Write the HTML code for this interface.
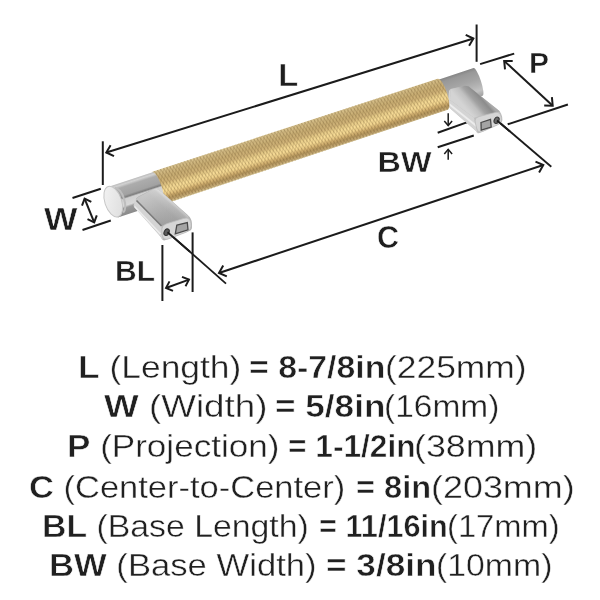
<!DOCTYPE html>
<html><head><meta charset="utf-8">
<style>
html,body{margin:0;padding:0;background:#fff;}
body{width:600px;height:600px;overflow:hidden;position:relative;font-family:"Liberation Sans",sans-serif;color:#202020;}
.t{position:absolute;font-size:31.5px;line-height:34px;white-space:nowrap;transform-origin:0 0;filter:grayscale(1);}
svg{position:absolute;left:0;top:0;}
.t{-webkit-text-stroke:0.4px #fff;}
.t b{-webkit-text-stroke:0.55px #fff;}
</style></head><body>
<svg width="600" height="340" viewBox="0 0 600 340">
<defs>
<linearGradient id="gold" gradientUnits="userSpaceOnUse" x1="0" y1="-16.3" x2="0" y2="17.3"><stop offset="0" stop-color="#dcc895"/><stop offset="0.08" stop-color="#d2ba83"/><stop offset="0.25" stop-color="#c8ad73"/><stop offset="0.4" stop-color="#d0b378"/><stop offset="0.5" stop-color="#e8cd8a"/><stop offset="0.6" stop-color="#f7dc97"/><stop offset="0.7" stop-color="#f3d690"/><stop offset="0.8" stop-color="#d2b070"/><stop offset="0.88" stop-color="#b4965e"/><stop offset="0.95" stop-color="#c2a671"/><stop offset="1" stop-color="#d8c491"/></linearGradient>
<pattern id="knurl" patternUnits="userSpaceOnUse" width="3" height="3" patternTransform="rotate(72)"><rect width="3" height="0.9" fill="#6a5028" fill-opacity="0.3"/></pattern>
<pattern id="knurl2" patternUnits="userSpaceOnUse" width="3" height="3" patternTransform="rotate(-58)"><rect width="3" height="0.8" fill="#6a5028" fill-opacity="0.22"/></pattern>
<linearGradient id="capg" gradientUnits="userSpaceOnUse" x1="0" y1="-16" x2="0" y2="16"><stop offset="0" stop-color="#9a9a9a"/><stop offset="0.12" stop-color="#d8d8d8"/><stop offset="0.3" stop-color="#b4b4b4"/><stop offset="0.55" stop-color="#a8a8a8"/><stop offset="0.75" stop-color="#d4d4d4"/><stop offset="1" stop-color="#9c9c9c"/></linearGradient>
<linearGradient id="capgL" gradientUnits="userSpaceOnUse" x1="0" y1="-16" x2="0" y2="16"><stop offset="0" stop-color="#bcbcbc"/><stop offset="0.067" stop-color="#d2d2d2"/><stop offset="0.15" stop-color="#acacac"/><stop offset="0.40" stop-color="#a2a2a2"/><stop offset="0.47" stop-color="#7e7e7e"/><stop offset="0.52" stop-color="#d0d0d0"/><stop offset="0.72" stop-color="#d8d8d8"/><stop offset="0.79" stop-color="#9a9a9a"/><stop offset="1" stop-color="#8a8a8a"/></linearGradient>
<linearGradient id="capgR" gradientUnits="userSpaceOnUse" x1="0" y1="-14.5" x2="0" y2="14.5"><stop offset="0" stop-color="#858585"/><stop offset="0.12" stop-color="#989898"/><stop offset="0.4" stop-color="#a4a4a4"/><stop offset="0.6" stop-color="#b2b2b2"/><stop offset="0.8" stop-color="#c2c2c2"/><stop offset="1" stop-color="#a0a0a0"/></linearGradient>
<linearGradient id="lpost" gradientUnits="userSpaceOnUse" x1="161.5" y1="224.5" x2="177" y2="207"><stop offset="0" stop-color="#a2a2a2"/><stop offset="0.6" stop-color="#ababab"/><stop offset="0.9" stop-color="#bababa"/><stop offset="1" stop-color="#d0d0d0"/></linearGradient>
<linearGradient id="lpost2" gradientUnits="userSpaceOnUse" x1="145" y1="195" x2="178" y2="224"><stop offset="0" stop-color="#fff" stop-opacity="0.35"/><stop offset="0.5" stop-color="#fff" stop-opacity="0.08"/><stop offset="1" stop-color="#000" stop-opacity="0.06"/></linearGradient>
<linearGradient id="rpost" gradientUnits="userSpaceOnUse" x1="474" y1="117.8" x2="490" y2="104"><stop offset="0" stop-color="#d4d4d4"/><stop offset="0.35" stop-color="#c0c0c0"/><stop offset="0.55" stop-color="#a2a2a2"/><stop offset="0.85" stop-color="#8c8c8c"/><stop offset="1" stop-color="#aaaaaa"/></linearGradient>
<linearGradient id="faceg" x1="0" y1="0" x2="1" y2="1"><stop offset="0" stop-color="#f4f4f4"/><stop offset="1" stop-color="#dcdcdc"/></linearGradient>
<linearGradient id="postg" x1="0" y1="0" x2="1" y2="0.6"><stop offset="0" stop-color="#d6d6d6"/><stop offset="0.3" stop-color="#c4c4c4"/><stop offset="0.6" stop-color="#a9a9a9"/><stop offset="1" stop-color="#b8b8b8"/></linearGradient>
</defs>
<g stroke="#1b1b1b" stroke-width="2.0" fill="none" stroke-linecap="butt">
<line x1="102.8" y1="141.3" x2="102.8" y2="185"/>
<line x1="476.6" y1="24.5" x2="476.6" y2="61.8"/>
<line x1="106.3" y1="152.5" x2="473.4" y2="38.5"/><polyline points="114.0,156.1 106.3,152.5 110.6,145.2"/><polyline points="465.7,34.9 473.4,38.5 469.1,45.8"/>
<line x1="72.5" y1="198" x2="100.8" y2="188.7"/>
<line x1="82.5" y1="230" x2="110.8" y2="220.5"/>
<g stroke-width="2"><line x1="84.6" y1="198.6" x2="94.2" y2="222.4"/><polyline points="82.0,205.6 84.6,198.6 91.3,201.9"/><polyline points="96.8,215.4 94.2,222.4 87.5,219.1"/></g>
<line x1="480.1" y1="64.1" x2="514.2" y2="53.6"/>
<line x1="507.7" y1="124.3" x2="567.9" y2="104.5"/>
<line x1="504.2" y1="60.9" x2="552.7" y2="105.7"/><polyline points="505.0,69.4 504.2,60.9 512.7,61.0"/><polyline points="551.9,97.2 552.7,105.7 544.2,105.6"/>
<line x1="162.4" y1="245" x2="162.4" y2="301"/>
<line x1="192.6" y1="232.4" x2="192.6" y2="292"/>
<g stroke-width="1.9"><line x1="166" y1="288" x2="189" y2="279.6"/><polyline points="173.0,290.8 166.0,288.0 169.5,281.4"/><polyline points="182.0,276.8 189.0,279.6 185.5,286.2"/></g>
<g stroke-width="1.8"><line x1="168" y1="232.4" x2="226" y2="283.6"/></g>
<g stroke-width="1.8"><line x1="497.5" y1="120.8" x2="551.3" y2="166.7"/></g>
<line x1="219" y1="273" x2="543.3" y2="165"/><polyline points="226.8,276.4 219.0,273.0 223.2,265.6"/><polyline points="535.5,161.6 543.3,165.0 539.1,172.4"/>
<line x1="437.7" y1="132.7" x2="473.8" y2="119.9"/>
<line x1="437.7" y1="147.2" x2="473.8" y2="135.5"/>
<g stroke-width="1.5"><line x1="448.2" y1="113.3" x2="448.2" y2="125.5"/><polyline points="452.1,120.9 448.2,125.5 444.3,120.9"/></g>
<g stroke-width="1.5"><line x1="448.2" y1="149.3" x2="448.2" y2="159.8"/><polyline points="444.3,153.9 448.2,149.3 452.1,153.9"/></g>
</g>
<g font-family="Liberation Sans" font-weight="bold" fill="#1e1e1e" stroke="#fff" stroke-width="0.5" style="filter:grayscale(1)">
<text x="278.3" y="85.8" textLength="20.0" lengthAdjust="spacingAndGlyphs" font-size="31.4">L</text>
<text x="529" y="73" textLength="20" lengthAdjust="spacingAndGlyphs" font-size="29.6">P</text>
<text x="44" y="230" textLength="33.5" lengthAdjust="spacingAndGlyphs" font-size="31.4">W</text>
<text x="115" y="280.6" textLength="40" lengthAdjust="spacingAndGlyphs" font-size="28.8">BL</text>
<text x="377.5" y="171.7" textLength="54.0" lengthAdjust="spacingAndGlyphs" font-size="28.8">BW</text>
<text x="377" y="248" textLength="22" lengthAdjust="spacingAndGlyphs" font-size="31.4">C</text>
</g>
<g transform="translate(300.0,140.55) rotate(-18.240)">
<path d="M148,-14.5 L187.5,-14.5 A3,14.5 0 0 1 187.5,14.5 L148,14.5 Z" fill="url(#capgR)"/>
</g>
<path d="M448.87,93.00Q449.00,90.00 451.90,89.24L462.10,86.56Q465.00,85.80 466.74,86.05L466.76,86.05Q468.50,86.30 470.85,88.16L497.65,109.44Q500.00,111.30 501.20,114.05L501.30,114.25Q502.50,117.00 502.40,119.89L502.40,119.91Q502.30,122.80 499.57,124.04L480.73,132.56Q478.00,133.80 477.00,132.41L477.00,132.39Q476.00,131.00 473.74,129.02L450.56,108.68Q448.30,106.70 448.43,103.70Z" fill="#bdbdbd"/>
<polygon points="450.5,89.0 465.0,85.8 468.5,86.3 500.0,111.5 474.0,117.8 450.0,100.0" fill="url(#rpost)"/>
<polygon points="449.0,91.0 450.5,89.0 450.0,100.0 474.0,117.8 477.7,134.0 476.0,131.0 448.3,106.7" fill="#d4d4d4"/>
<polyline points="449.0,104.0 476.5,126.0" stroke="#ececec" stroke-width="2" fill="none"/>
<path d="M475.36,123.13Q474.00,117.80 479.34,116.47L494.66,112.63Q500.00,111.30 501.08,116.69L501.22,117.41Q502.30,122.80 497.27,125.02L483.03,131.28Q478.00,133.50 476.64,128.17Z" fill="#d6d6d6" stroke="#bcbcbc" stroke-width="0.8"/>
<polygon points="481.0,122.5 490.5,119.3 491.2,127.0 481.2,130.2" fill="#a4a4a4" stroke="#4a4a4a" stroke-width="1.3"/>
<ellipse cx="496.6" cy="120.2" rx="2.3" ry="3.3" transform="rotate(25 496.6 120.2)" fill="#6a6a6a" stroke="#3a3a3a" stroke-width="1.1"/>
<g transform="translate(300.0,140.55) rotate(-18.240)">
<path d="M-150,-16.6 L150,-15.6 A4.5,16.25 0 0 1 150,16.9 L-150,17.8 Z" fill="url(#gold)"/>
<path d="M-150,-16.6 L150,-15.6 A4.5,16.25 0 0 1 150,16.9 L-150,17.8 Z" fill="url(#knurl)"/>
<path d="M-150,-16.6 L150,-15.6 A4.5,16.25 0 0 1 150,16.9 L-150,17.8 Z" fill="url(#knurl2)"/>
<path d="M-197,-16 L-150,-16 A4.2,16 0 0 1 -150,16 L-197,16 Z" fill="url(#capgL)"/>
<ellipse cx="-196.5" cy="-0.5" rx="8.4" ry="15.9" fill="url(#faceg)" stroke="#c6c6c6" stroke-width="1"/>
<path d="M-190.5,-13 A7,13.5 0 0 1 -190.5,13" fill="none" stroke="#bdbdbd" stroke-width="2"/>
</g>
<path d="M135.29,200.41Q136.00,197.50 138.70,196.19L152.30,189.61Q155.00,188.30 157.49,189.39L157.51,189.41Q160.00,190.50 162.25,192.49L187.25,214.61Q189.50,216.60 190.74,218.79L190.76,218.81Q192.00,221.00 192.00,224.00L192.00,227.00Q192.00,230.00 189.20,231.08L165.80,240.12Q163.00,241.20 161.76,238.86L161.74,238.84Q160.50,236.50 158.51,234.26L135.79,208.74Q133.80,206.50 134.51,203.59Z" fill="#b5b5b5"/>
<path d="M136.40,199.64Q135.80,198.30 138.02,197.15L152.78,189.45Q155.00,188.30 157.29,189.31L157.71,189.49Q160.00,190.50 161.84,192.19L187.66,215.81Q189.50,217.50 187.11,218.23L163.89,225.27Q161.50,226.00 159.75,224.21L138.75,202.79Q137.00,201.00 136.40,199.66Z" fill="url(#lpost)"/>
<path d="M136.40,199.64Q135.80,198.30 138.02,197.15L152.78,189.45Q155.00,188.30 157.29,189.31L157.71,189.49Q160.00,190.50 161.84,192.19L187.66,215.81Q189.50,217.50 187.11,218.23L163.89,225.27Q161.50,226.00 159.75,224.21L138.75,202.79Q137.00,201.00 136.40,199.66Z" fill="url(#lpost2)"/>
<polygon points="133.5,206.0 135.8,198.3 137.0,201.0 161.5,226.0 162.8,240.3 160.5,236.5" fill="#d4d4d4"/>
<polyline points="136.5,200.5 161.5,226.0" stroke="#7a7a7a" stroke-width="1.6" fill="none"/>
<polyline points="134.5,206.5 160.5,234.0" stroke="#ececec" stroke-width="1.6" fill="none"/>
<path d="M161.83,231.95Q161.00,225.50 167.21,223.57L183.49,218.53Q189.70,216.60 190.80,223.01L190.90,223.59Q192.00,230.00 185.92,232.31L169.08,238.69Q163.00,241.00 162.17,234.55Z" fill="#d6d6d6" stroke="#bdbdbd" stroke-width="0.8"/>
<polygon points="176.8,225.2 187.3,222.6 188.0,229.8 175.3,233.8" fill="#a4a4a4" stroke="#4a4a4a" stroke-width="1.3"/>
<ellipse cx="166.6" cy="232.2" rx="2.4" ry="3.4" transform="rotate(25 166.6 232.2)" fill="#5a5a5a" stroke="#333" stroke-width="1.1"/>
<g stroke="#1b1b1b" stroke-width="1.8">
<line x1="167.5" y1="232.2" x2="190" y2="251.8"/>
<line x1="497" y1="120.5" x2="510" y2="131.5"/>
</g>
</svg>
<div class="t" style="left:77.8px;top:350.3px;transform:scaleX(1.124)"><b>L</b> (Length)</div>
<div class="t" style="left:249.2px;top:350.3px;transform:scaleX(1.074)"><b>= 8-7/8in</b></div>
<div class="t" style="left:384.8px;top:350.3px;transform:scaleX(1.124)">(225mm)</div>
<div class="t" style="left:104.0px;top:389.3px;transform:scaleX(1.168)"><b>W</b> (Width)</div>
<div class="t" style="left:274.9px;top:389.3px;transform:scaleX(1.116)"><b>= 5/8in</b></div>
<div class="t" style="left:384.3px;top:389.3px;transform:scaleX(1.063)">(16mm)</div>
<div class="t" style="left:66.8px;top:428.8px;transform:scaleX(1.113)"><b>P</b> (Projection)</div>
<div class="t" style="left:287.8px;top:428.8px;transform:scaleX(1.005)"><b>= 1-1/2in</b></div>
<div class="t" style="left:414.1px;top:428.8px;transform:scaleX(1.136)">(38mm)</div>
<div class="t" style="left:29.4px;top:470.0px;transform:scaleX(1.095)"><b>C</b> (Center-to-Center)</div>
<div class="t" style="left:356.0px;top:470.0px;transform:scaleX(1.035)"><b>= 8in</b></div>
<div class="t" style="left:430.7px;top:470.0px;transform:scaleX(1.140)">(203mm)</div>
<div class="t" style="left:42.4px;top:508.6px;transform:scaleX(1.073)"><b>BL</b> (Base Length)</div>
<div class="t" style="left:318.7px;top:508.6px;transform:scaleX(0.974)"><b>= 11/16in</b></div>
<div class="t" style="left:446.9px;top:508.6px;transform:scaleX(1.038)">(17mm)</div>
<div class="t" style="left:49.3px;top:547.8px;transform:scaleX(1.100)"><b>BW</b> (Base Width)</div>
<div class="t" style="left:326.3px;top:547.8px;transform:scaleX(1.118)"><b>= 3/8in</b></div>
<div class="t" style="left:436.3px;top:547.8px;transform:scaleX(1.073)">(10mm)</div>
</body></html>
